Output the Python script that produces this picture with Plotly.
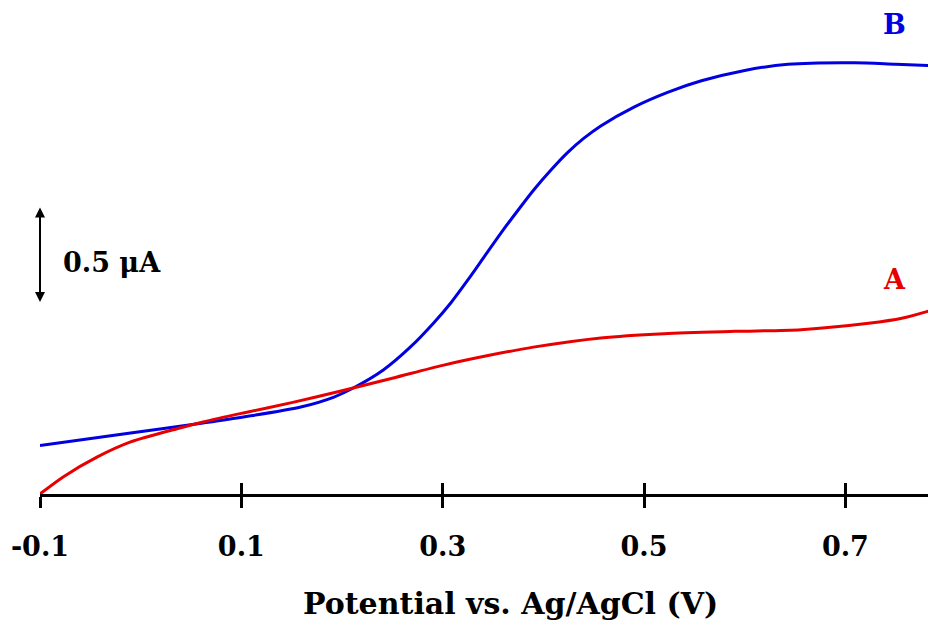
import plotly.graph_objects as go

# Curve A (red)
a_potential = [-0.100, -0.077, -0.043, -0.010, 0.039, 0.062, 0.102, 0.150, 0.200, 0.250,
               0.300, 0.350, 0.390, 0.457, 0.520, 0.590, 0.656, 0.723, 0.756, 0.790]
a_current = [0.000, 0.089, 0.193, 0.271, 0.344, 0.375, 0.422, 0.476, 0.538, 0.603,
             0.670, 0.726, 0.765, 0.813, 0.835, 0.847, 0.856, 0.889, 0.915, 0.964]

# Curve B (blue)
b_potential = [-0.100, -0.010, 0.062, 0.102, 0.159, 0.192, 0.213, 0.241, 0.268, 0.291,
               0.308, 0.325, 0.341, 0.358, 0.375, 0.391, 0.408, 0.424, 0.440, 0.457,
               0.490, 0.524, 0.557, 0.600, 0.643, 0.709, 0.750, 0.790]
b_current = [0.252, 0.318, 0.370, 0.401, 0.453, 0.505, 0.557, 0.646, 0.766, 0.891,
             0.995, 1.115, 1.234, 1.360, 1.479, 1.587, 1.690, 1.778, 1.852, 1.917,
             2.015, 2.093, 2.152, 2.206, 2.238, 2.246, 2.238, 2.230]

x_ticks = [-0.1, 0.1, 0.3, 0.5, 0.7]
x_tick_labels = ["-0.1", "0.1", "0.3", "0.5", "0.7"]

BLUE = "#0000e0"
RED = "#e80000"
FONT = "DejaVu Serif"

fig = go.Figure()
fig.add_trace(go.Scatter(x=b_potential, y=b_current, mode="lines",
                         line=dict(color=BLUE, width=3, shape="spline", smoothing=0.8),
                         showlegend=False, cliponaxis=False))
fig.add_trace(go.Scatter(x=a_potential, y=a_current, mode="lines",
                         line=dict(color=RED, width=3, shape="spline", smoothing=0.8),
                         showlegend=False, cliponaxis=False))
# invisible trace to activate second x axis (ticks crossing the axis line)
fig.add_trace(go.Scatter(x=[-0.1], y=[0], xaxis="x2", mode="markers",
                         marker=dict(opacity=0), showlegend=False, hoverinfo="skip"))

# The page body has an 8px margin, so the plot area is shifted by -8px.
fig.update_layout(
    width=936, height=625,
    margin=dict(l=32, r=8, t=0, b=139, autoexpand=False),
    paper_bgcolor="white", plot_bgcolor="white",
    font=dict(family=FONT, color="black"),
    xaxis=dict(range=[-0.1, 0.79], showgrid=False, zeroline=False, automargin=False,
               showline=True, linecolor="black", linewidth=3,
               ticks="outside", ticklen=11, tickwidth=3, tickcolor="black",
               tickvals=x_ticks, ticktext=x_tick_labels, ticklabelstandoff=16,
               tickfont=dict(family=FONT, size=27, weight="bold")),
    xaxis2=dict(range=[-0.1, 0.79], overlaying="x", side="bottom", anchor="y",
                showgrid=False, zeroline=False, showline=False, automargin=False,
                ticks="inside", ticklen=11, tickwidth=3, tickcolor="black",
                tickvals=x_ticks, showticklabels=False),
    yaxis=dict(range=[0, 2.531], visible=False, showgrid=False, zeroline=False,
               automargin=False),
)

# axis title (offset to the right like the original)
fig.add_annotation(x=0.5246, y=-0.226, xref="paper", yref="paper",
                   text="Potential vs. Ag/AgCl (V)", showarrow=False,
                   xanchor="center", yanchor="middle",
                   font=dict(family=FONT, size=30, weight="bold", color="black"))

# scale bar 0.5 µA
fig.add_annotation(x=-0.1, y=1.0, ax=-0.1, ay=1.5, axref="x", ayref="y",
                   xref="x", yref="y", text="", showarrow=True,
                   arrowhead=2, startarrowhead=2, arrowside="end+start",
                   arrowsize=1, arrowwidth=2, arrowcolor="black")
fig.add_annotation(x=-0.079, y=1.208, xref="x", yref="y", text="0.5 μA",
                   showarrow=False, xanchor="left", yanchor="middle",
                   font=dict(family=FONT, size=27, weight="bold", color="black"))
fig.add_annotation(x=0.749, y=2.443, xref="x", yref="y", text="B",
                   showarrow=False, xanchor="center", yanchor="middle",
                   font=dict(family=FONT, size=27, weight="bold", color=BLUE))
fig.add_annotation(x=0.749, y=1.115, xref="x", yref="y", text="A",
                   showarrow=False, xanchor="center", yanchor="middle",
                   font=dict(family=FONT, size=27, weight="bold", color=RED))

fig.write_html("out.html")
